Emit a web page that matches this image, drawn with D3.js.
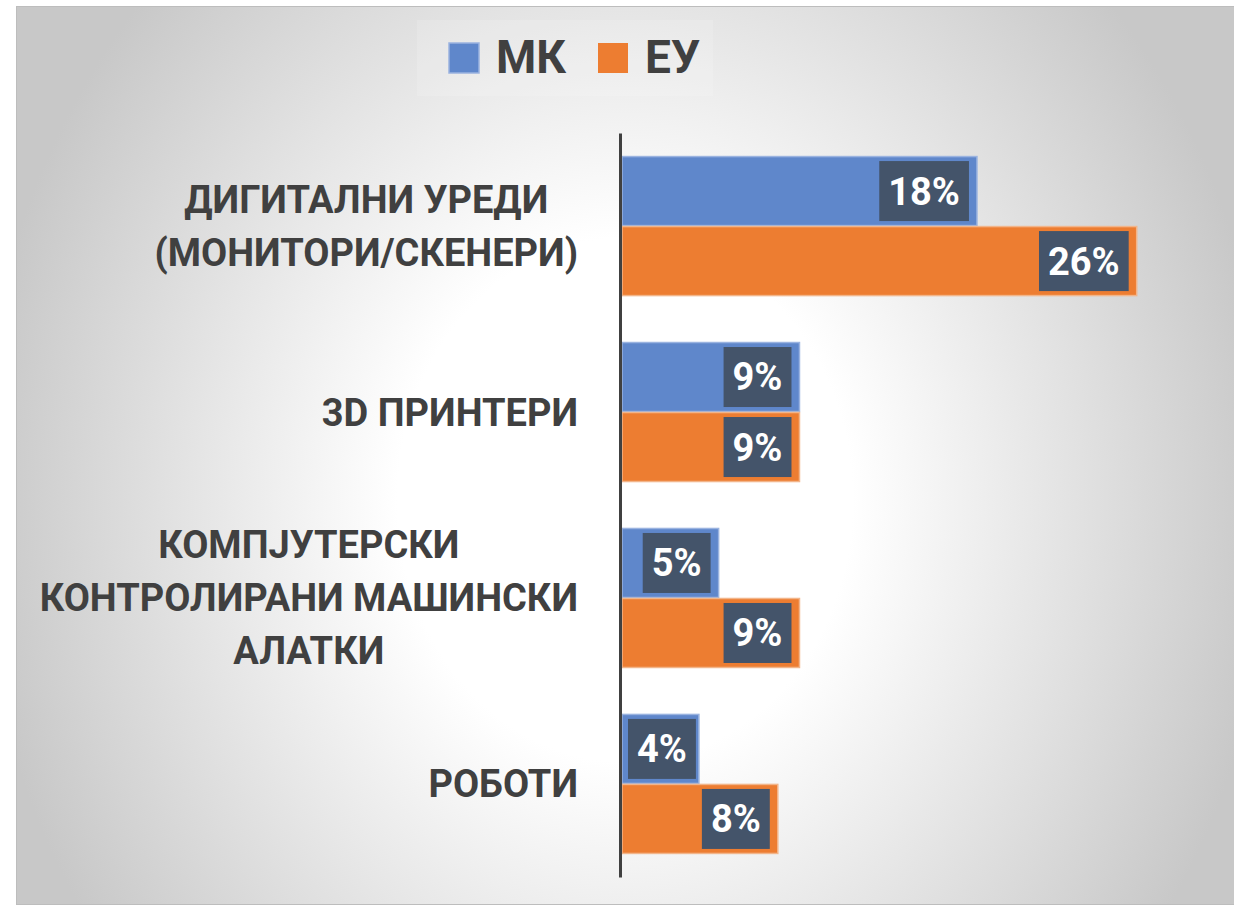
<!DOCTYPE html>
<html>
<head>
<meta charset="utf-8">
<script src="https://cdn.jsdelivr.net/npm/d3@7/dist/d3.min.js"></script>
<style>
  html, body { margin: 0; padding: 0; background: #ffffff; }
  svg { display: block; }
</style>
</head>
<body>
<svg id="chart" width="1234" height="906"></svg>
<script>
// ---- Data ----
const categories = [
  ["ДИГИТАЛНИ УРЕДИ", "(МОНИТОРИ/СКЕНЕРИ)"],
  ["3D ПРИНТЕРИ"],
  ["КОМПЈУТЕРСКИ", "КОНТРОЛИРАНИ МАШИНСКИ", "АЛАТКИ"],
  ["РОБОТИ"]
];
const seriesNames = ["МК", "ЕУ"];
const mkValues = [18.0, 9.0, 4.9, 3.9];
const euValues = [26.1, 9.0, 9.0, 7.9];

// ---- Styles ----
const colors = { "МК": "#5f87cb", "ЕУ": "#ed7d31" };
const strokes = { "МК": "#9ab3e0", "ЕУ": "#f2b58a" };
const textColor = "#404040";
const labelBoxColor = "#44546a";
const fontFamily = "Roboto, 'Open Sans', 'DejaVu Sans', sans-serif";

const svg = d3.select("#chart");

// background panel with radial gradient
const defs = svg.append("defs");
const grad = defs.append("radialGradient")
  .attr("id", "bg")
  .attr("gradientUnits", "userSpaceOnUse")
  .attr("cx", 625).attr("cy", 500).attr("r", 650)
  .attr("gradientTransform", "translate(625,500) scale(1,1.15) translate(-625,-500)");
grad.append("stop").attr("offset", 0).attr("stop-color", "#ffffff");
grad.append("stop").attr("offset", 0.35).attr("stop-color", "#ffffff");
grad.append("stop").attr("offset", 1).attr("stop-color", "#c8c8c8");

svg.append("rect")
  .attr("x", 16.5).attr("y", 6.5).attr("width", 1220).attr("height", 898)
  .attr("fill", "url(#bg)")
  .attr("stroke", "#bdbdbd").attr("stroke-width", 1);

// ---- Scales ----
const idx = categories.map((d, i) => i);
const x = d3.scaleLinear().domain([0, 30]).range([622, 622 + 30 * 19.72]);
const y0 = d3.scaleBand().domain(idx).range([133, 877])
  .paddingInner(0.247).paddingOuter(0.124);
const y1 = d3.scaleBand().domain(seriesNames).range([0, y0.bandwidth()]).padding(0);

const rows = idx.map(i => ({
  i,
  values: [
    { key: "МК", value: mkValues[i] },
    { key: "ЕУ", value: euValues[i] }
  ]
}));

// ---- Bars ----
const groups = svg.append("g").selectAll("g.grp")
  .data(rows).join("g")
  .attr("class", "grp")
  .attr("transform", d => `translate(0,${y0(d.i)})`);

groups.selectAll("rect.bar")
  .data(d => d.values).join("rect")
  .attr("class", "bar")
  .attr("x", x(0))
  .attr("y", d => y1(d.key) + 0.5)
  .attr("width", d => x(d.value) - x(0))
  .attr("height", y1.bandwidth() - 1)
  .attr("fill", d => colors[d.key])
  .attr("stroke", d => strokes[d.key])
  .attr("stroke-width", 1.5);

// ---- Data labels ----
const labelFont = 38;
const labels = groups.selectAll("g.lbl")
  .data(d => d.values).join("g")
  .attr("class", "lbl");

labels.each(function(d) {
  const g = d3.select(this);
  const t = g.append("text")
    .attr("font-family", fontFamily)
    .attr("font-weight", 700)
    .attr("font-size", labelFont)
    .attr("fill", "#ffffff")
    .attr("text-anchor", "middle")
    .text(Math.round(d.value) + "%");
  const tw = t.node().getComputedTextLength();
  const bw = tw + 18, bh = 60;
  let right = x(d.value) - 8;
  let left = right - bw;
  if (left < x(0) + 6) { left = x(0) + 6; }
  const top = y1(d.key) + (y1.bandwidth() - bh) / 2;
  g.insert("rect", "text")
    .attr("x", left).attr("y", top)
    .attr("width", bw).attr("height", bh)
    .attr("fill", labelBoxColor);
  t.attr("x", left + bw / 2)
   .attr("y", top + bh / 2 + labelFont * 0.355);
});

// ---- Axis ----
const axis = d3.axisLeft(y0).tickSize(0).tickSizeOuter(0).tickFormat("");
const axG = svg.append("g")
  .attr("transform", `translate(${x(0) - 2},0)`)
  .call(axis);
axG.select(".domain").attr("stroke", "#404040").attr("stroke-width", 3);
axG.selectAll(".tick").remove();

// ---- Category labels ----
const catFont = 38, lineH = 53, catRight = 578;
const catG = svg.append("g");
rows.forEach(r => {
  const lines = categories[r.i];
  const cy = y0(r.i) + y0.bandwidth() / 2;
  const t = catG.append("text")
    .attr("font-family", fontFamily)
    .attr("font-weight", 700)
    .attr("font-size", catFont)
    .attr("fill", textColor)
    .attr("text-anchor", "middle");
  const spans = lines.map((ln, k) => t.append("tspan")
    .attr("y", cy + (k - (lines.length - 1) / 2) * lineH + catFont * 0.355)
    .text(ln));
  const maxW = d3.max(spans, s => s.node().getComputedTextLength());
  spans.forEach(s => s.attr("x", catRight - maxW / 2));
});

// ---- Legend ----
const legFont = 46;
svg.append("rect")
  .attr("x", 417).attr("y", 20).attr("width", 296).attr("height", 76)
  .attr("fill", "#ffffff").attr("fill-opacity", 0.15);
let lx = 449;
seriesNames.forEach(name => {
  svg.append("rect")
    .attr("x", lx).attr("y", 43).attr("width", 30).attr("height", 30)
    .attr("fill", colors[name])
    .attr("stroke", strokes[name]).attr("stroke-width", name === "МК" ? 1.5 : 0);
  const t = svg.append("text")
    .attr("x", lx + 47).attr("y", 73)
    .attr("font-family", fontFamily)
    .attr("font-weight", 700)
    .attr("font-size", legFont)
    .attr("fill", textColor)
    .text(name);
  lx = lx + 47 + t.node().getComputedTextLength() + 32;
});
</script>
</body>
</html>
